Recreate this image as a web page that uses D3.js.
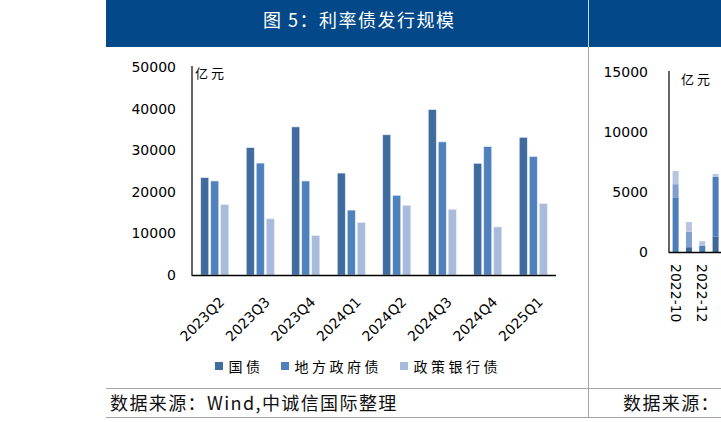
<!DOCTYPE html>
<html>
<head>
<meta charset="utf-8">
<script src="https://cdn.jsdelivr.net/npm/d3@7"></script>
<style>
  html, body { margin: 0; padding: 0; background: #fff; }
  svg { display: block; }
</style>
</head>
<body>
<svg id="chart" width="721" height="422"></svg>
<script>
// ---- Data (left chart: 利率债发行规模, 亿元) ----
const categories = ["2023Q2", "2023Q3", "2023Q4", "2024Q1", "2024Q2", "2024Q3", "2024Q4", "2025Q1"];
const seriesNames = ["国债", "地方政府债", "政策银行债"];
const govBond    = [23400, 30600, 35600, 24500, 33700, 39750, 26850, 33100];
const localBond  = [22600, 26900, 22600, 15600, 19150, 32000, 30850, 28450];
const policyBond = [16900, 13500,  9450, 12600, 16750, 15800, 11550, 17150];
const yTicks = [0, 10000, 20000, 30000, 40000, 50000];

// ---- Data (right chart, partially visible, 亿元) ----
const months = ["2022-10", "2022-11", "2022-12", "2023-01"];
const monthLabels = ["2022-10", "2022-12"];
const rSeriesA = [0, 400, 0, 1300];
const rSeriesB = [4500, 0, 500, 4950];
const rSeriesC = [1150, 1300, 0, 0];
const rSeriesD = [1100, 800, 400, 250];
const rTicks = [0, 5000, 10000, 15000];

const colors = ["#3F6B9E", "#4F81BD", "#A9BBDA"];
const rColors = ["#3D6797", "#4E7EBA", "#809FCC", "#B6C6E1"];

const svg = d3.select("#chart");
const numFont = "'DejaVu Sans', Verdana, sans-serif";
const cjkFont = "'Noto Sans CJK SC', 'Noto Sans', sans-serif";

// ---- Frame: header band, dividers ----
svg.append("rect").attr("x", 106).attr("y", 0).attr("width", 615).attr("height", 47).attr("fill", "#03498A");
svg.append("line").attr("x1", 588.5).attr("x2", 588.5).attr("y1", 0).attr("y2", 47).attr("stroke", "#c9d3e2").attr("stroke-width", 1);
svg.append("line").attr("x1", 588.5).attr("x2", 588.5).attr("y1", 47).attr("y2", 418).attr("stroke", "#a6a6a6").attr("stroke-width", 1);
svg.append("line").attr("x1", 106).attr("x2", 721).attr("y1", 388.5).attr("y2", 388.5).attr("stroke", "#a6a6a6").attr("stroke-width", 1);
svg.append("line").attr("x1", 106).attr("x2", 721).attr("y1", 417.5).attr("y2", 417.5).attr("stroke", "#a6a6a6").attr("stroke-width", 1);

svg.append("text").attr("x", 263).attr("y", 26.5)
  .attr("font-family", cjkFont).attr("font-size", 18).attr("letter-spacing", 1.5)
  .attr("fill", "#fff").text("图 5：利率债发行规模");

svg.append("text").attr("x", 110).attr("y", 409.5)
  .attr("font-family", cjkFont).attr("font-size", 18).attr("letter-spacing", 1.4)
  .attr("fill", "#111").text("数据来源：Wind,中诚信国际整理");
svg.append("text").attr("x", 623).attr("y", 409.5)
  .attr("font-family", cjkFont).attr("font-size", 18).attr("letter-spacing", 1.4)
  .attr("fill", "#111").text("数据来源：");

// ---- Left chart ----
const x0 = d3.scaleBand().domain(categories).range([192, 556]);
const x1 = d3.scaleBand().domain(seriesNames).range([-15, 15]);
const y = d3.scaleLinear().domain([0, 50000]).range([275, 67]);

const yAxis = d3.axisLeft(y).tickValues(yTicks).tickSize(0).tickPadding(16).tickFormat(d3.format("d"));
const gy = svg.append("g").attr("transform", "translate(192,0)").call(yAxis);
gy.select(".domain").remove();
gy.selectAll("text").attr("font-family", numFont).attr("font-size", 14).attr("fill", "#000");

const rows = categories.map((c, i) => ({ cat: c, vals: [govBond[i], localBond[i], policyBond[i]] }));
const groups = svg.append("g").selectAll("g").data(rows).join("g")
  .attr("transform", d => `translate(${x0(d.cat) + x0.bandwidth() / 2},0)`);
groups.selectAll("rect").data(d => d.vals.map((v, k) => ({ v, k }))).join("rect")
  .attr("x", d => x1(seriesNames[d.k]) + 1)
  .attr("width", x1.bandwidth() - 2)
  .attr("y", d => y(d.v))
  .attr("height", d => y(0) - y(d.v))
  .attr("fill", d => colors[d.k])
  .attr("stroke", "#e4ebf4").attr("stroke-width", 0.6);

svg.append("line").attr("x1", 192).attr("x2", 192).attr("y1", 66).attr("y2", 275).attr("stroke", "#000").attr("stroke-width", 1.2);
svg.append("line").attr("x1", 191.5).attr("x2", 556).attr("y1", 275.5).attr("y2", 275.5).attr("stroke", "#000").attr("stroke-width", 1.6);

svg.append("g").selectAll("text").data(categories).join("text")
  .attr("transform", d => `translate(${x0(d) + x0.bandwidth() / 2 + 10.5},303) rotate(-45)`)
  .attr("text-anchor", "end")
  .attr("font-family", numFont).attr("font-size", 14).attr("fill", "#000")
  .text(d => d);

svg.append("text").attr("x", 195).attr("y", 78)
  .attr("font-family", cjkFont).attr("font-size", 13).attr("letter-spacing", 3)
  .attr("fill", "#000").text("亿元");

// Legend
const legendX = [215, 281, 400];
const lg = svg.append("g").selectAll("g").data(seriesNames).join("g")
  .attr("transform", (d, i) => `translate(${legendX[i]},0)`);
lg.append("rect").attr("x", 0).attr("y", 362).attr("width", 8).attr("height", 8).attr("fill", (d, i) => colors[i]);
lg.append("text").attr("x", 13.5).attr("y", 371.5)
  .attr("font-family", cjkFont).attr("font-size", 14).attr("letter-spacing", 3.5)
  .attr("fill", "#000").text(d => d);

// ---- Right chart (clipped by page edge) ----
const rx = d3.scaleBand().domain(months).range([669, 669 + months.length * 13.3]).paddingInner(0.55).paddingOuter(0.27);
const ry = d3.scaleLinear().domain([0, 15000]).range([252, 72]);

const ryAxis = d3.axisLeft(ry).tickValues(rTicks).tickSize(0).tickPadding(21).tickFormat(d3.format("d"));
const rgy = svg.append("g").attr("transform", "translate(669,0)").call(ryAxis);
rgy.select(".domain").remove();
rgy.selectAll("text").attr("font-family", numFont).attr("font-size", 14).attr("fill", "#000");

const rSeries = [rSeriesA, rSeriesB, rSeriesC, rSeriesD];
const rRows = months.map((m, i) => {
  const o = { m };
  rSeries.forEach((s, k) => { o["s" + k] = s[i]; });
  return o;
});
const stack = d3.stack().keys(["s0", "s1", "s2", "s3"])(rRows);
svg.append("g").selectAll("g").data(stack).join("g")
  .attr("fill", (d, k) => rColors[k])
  .selectAll("rect").data(d => d).join("rect")
  .attr("x", d => rx(d.data.m))
  .attr("width", rx.bandwidth())
  .attr("y", d => ry(d[1]))
  .attr("height", d => ry(d[0]) - ry(d[1]));

svg.append("line").attr("x1", 669).attr("x2", 669).attr("y1", 71).attr("y2", 252).attr("stroke", "#000").attr("stroke-width", 1.2);
svg.append("line").attr("x1", 668.5).attr("x2", 721).attr("y1", 252.5).attr("y2", 252.5).attr("stroke", "#000").attr("stroke-width", 1.6);

svg.append("g").selectAll("text").data(monthLabels).join("text")
  .attr("transform", d => `translate(${rx(d) + rx.bandwidth() / 2},264) rotate(90)`)
  .attr("dominant-baseline", "central")
  .attr("font-family", numFont).attr("font-size", 14).attr("fill", "#000")
  .text(d => d);

svg.append("text").attr("x", 681).attr("y", 84)
  .attr("font-family", cjkFont).attr("font-size", 13).attr("letter-spacing", 3)
  .attr("fill", "#000").text("亿元");
</script>
</body>
</html>
